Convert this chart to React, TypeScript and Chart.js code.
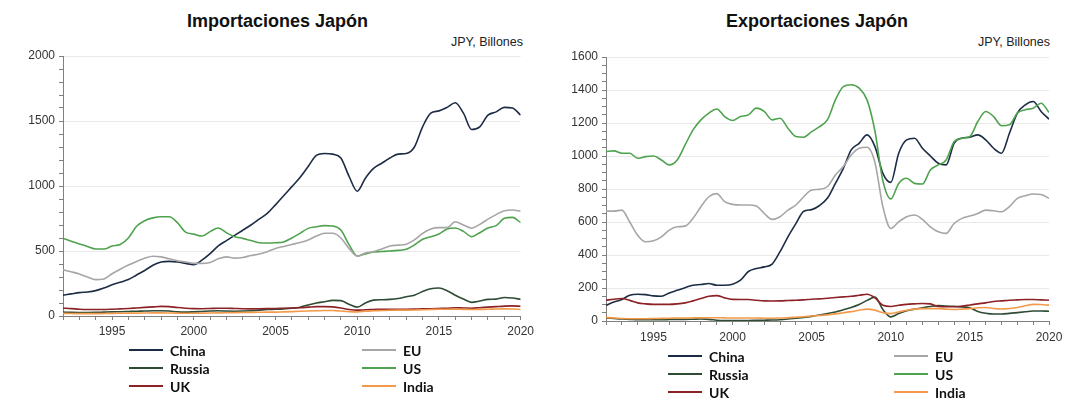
import React, { useEffect, useLayoutEffect, useRef } from 'react';
import { Chart, registerables } from 'chart.js';

Chart.register(...registerables);

// Half-year grid, 1992.0 .. 2020.0
const years: number[] = Array.from({ length: 57 }, (_, i) => 1992 + i * 0.5);

// ---------- Imports (JPY billions) ----------
const impChina = [160, 170, 180, 185, 195, 215, 240, 260, 280, 315,
  350, 390, 415, 420, 415, 405, 395, 430, 480, 540,
  580, 620, 660, 700, 745, 790, 855, 925, 995, 1065,
  1150, 1235, 1250, 1245, 1215, 1075, 960, 1060, 1135, 1175,
  1215, 1245, 1250, 1300, 1455, 1560, 1578, 1605, 1640, 1560,
  1435, 1455, 1545, 1570, 1605, 1600, 1545];
const impEU = [355, 340, 323, 300, 280, 285, 325, 360, 392, 420,
  445, 460, 455, 440, 425, 415, 405, 405, 412, 440,
  455, 445, 450, 465, 477, 495, 520, 535, 550, 565,
  585, 615, 636, 636, 600, 520, 460, 485, 495, 515,
  538, 545, 552, 585, 636, 670, 680, 680, 725, 700,
  675, 705, 745, 780, 810, 815, 805];
const impUS = [597, 575, 554, 535, 515, 515, 538, 550, 600, 690,
  733, 755, 764, 764, 718, 645, 630, 615, 649, 677,
  641, 610, 597, 580, 564, 562, 564, 570, 600, 636,
  674, 687, 695, 692, 662, 549, 461, 477, 492, 496,
  500, 505, 513, 546, 590, 610, 631, 669, 677, 651,
  610, 641, 677, 695, 751, 759, 718];
const impRussia = [30, 28, 27, 27, 28, 30, 32, 33, 35, 37,
  38, 40, 40, 38, 32, 30, 32, 35, 38, 40,
  38, 37, 38, 40, 45, 50, 52, 55, 60, 68,
  85, 100, 110, 120, 118, 90, 68, 100, 122, 125,
  128, 135, 148, 160, 188, 210, 215, 195, 160, 130,
  105, 115, 128, 130, 142, 138, 128];
const impUK = [60, 57, 52, 50, 50, 50, 52, 55, 58, 62,
  66, 70, 74, 72, 65, 60, 57, 56, 58, 60,
  60, 58, 56, 55, 56, 57, 58, 60, 62, 64,
  68, 72, 72, 70, 62, 50, 45, 48, 50, 52,
  52, 52, 52, 53, 55, 56, 58, 60, 64, 62,
  60, 64, 68, 72, 76, 78, 75];
const impIndia = [20, 19, 18, 18, 18, 19, 20, 21, 22, 22,
  23, 24, 24, 23, 22, 21, 21, 22, 23, 24,
  25, 26, 27, 28, 29, 30, 30, 32, 34, 36,
  38, 40, 42, 42, 38, 34, 32, 36, 40, 42,
  44, 45, 45, 46, 48, 50, 52, 52, 52, 51,
  50, 51, 52, 54, 55, 54, 50];

// ---------- Exports (JPY billions) ----------
const expChina = [95, 115, 130, 156, 162, 160, 152, 150, 170, 186,
  202, 217, 221, 227, 217, 217, 223, 247, 300, 318,
  328, 345, 420, 510, 590, 665, 675, 700, 745, 834,
  925, 1037, 1077, 1128, 1057, 895, 840, 1017, 1098, 1108,
  1047, 1000, 956, 946, 1077, 1108, 1114, 1128, 1098, 1047,
  1017, 1138, 1260, 1310, 1330, 1270, 1223];
const expEU = [666, 666, 672, 600, 520, 480, 486, 510, 551, 571,
  575, 622, 693, 753, 772, 723, 707, 703, 703, 697,
  652, 616, 632, 672, 703, 753, 794, 798, 815, 885,
  936, 1006, 1047, 1053, 960, 693, 561, 601, 632, 642,
  616, 571, 541, 531, 591, 622, 636, 652, 672, 668,
  662, 693, 743, 759, 770, 767, 743];
const expUS = [1027, 1031, 1017, 1017, 986, 996, 1000, 976, 946, 976,
  1067, 1158, 1219, 1260, 1285, 1239, 1215, 1239, 1249, 1290,
  1270, 1219, 1229, 1168, 1118, 1114, 1148, 1178, 1220, 1340,
  1421, 1432, 1411, 1340, 1150, 850, 740, 834, 865, 834,
  830, 915, 946, 976, 1087, 1108, 1118, 1209, 1270, 1239,
  1183, 1189, 1260, 1280, 1290, 1320, 1264];
const expRussia = [18, 15, 12, 10, 8, 8, 8, 8, 9, 10,
  10, 11, 12, 10, 5, 3, 3, 3, 3, 4,
  5, 6, 8, 12, 17, 22, 28, 36, 45, 55,
  68, 82, 100, 125, 145, 70, 25, 45, 62, 72,
  80, 88, 93, 90, 89, 85, 80, 58, 47, 42,
  42, 46, 51, 56, 61, 61, 59];
const expUK = [126, 132, 136, 125, 110, 104, 101, 101, 101, 104,
  110, 122, 136, 150, 154, 140, 131, 130, 130, 126,
  122, 121, 122, 124, 126, 128, 132, 134, 138, 142,
  146, 150, 156, 162, 140, 95, 88, 95, 101, 104,
  106, 104, 88, 86, 86, 90, 97, 104, 110, 118,
  122, 126, 128, 130, 130, 128, 126];
const expIndia = [22, 18, 15, 14, 14, 14, 15, 16, 17, 18,
  18, 19, 20, 20, 20, 19, 18, 18, 18, 18,
  17, 17, 18, 20, 23, 26, 30, 33, 37, 43,
  50, 57, 65, 72, 66, 50, 45, 55, 65, 72,
  75, 75, 75, 72, 70, 72, 75, 80, 82, 76,
  73, 76, 82, 92, 101, 100, 96];

const xTickLabels = [1995, 2000, 2005, 2010, 2015, 2020];

const COLORS: Record<string, string> = {
  China: '#1d2c45',
  EU: '#a6a6a6',
  Russia: '#2e4b33',
  US: '#4fa34f',
  UK: '#8c2226',
  India: '#f39a4a',
};

// drawing order (last on top)
const DRAW_ORDER = ['EU', 'US', 'India', 'UK', 'Russia', 'China'];
const LEGEND_LEFT = ['China', 'Russia', 'UK'];
const LEGEND_RIGHT = ['EU', 'US', 'India'];

const importSeries: Record<string, number[]> = {
  China: impChina, EU: impEU, US: impUS, Russia: impRussia, UK: impUK, India: impIndia,
};
const exportSeries: Record<string, number[]> = {
  China: expChina, EU: expEU, US: expUS, Russia: expRussia, UK: expUK, India: expIndia,
};

const AXIS_COLOR = '#808080';
const GRID_COLOR = '#e9e9e9';
const FONT = '"Liberation Sans", Arial, sans-serif';

type ChartProps = {
  series: Record<string, number[]>;
  yMax: number;
  yStep: number;
  yLabelStep: number;
  left: number;
  top: number;
  width: number;
  height: number;
  padTop: number;
  padRight: number;
  yAxisWidth: number;
  xLabelPad: number;
};

function TradeChart(p: ChartProps) {
  const ref = useRef<HTMLCanvasElement | null>(null);
  useEffect(() => {
    if (!ref.current) return;
    const chart = new Chart(ref.current, {
      type: 'line',
      data: {
        datasets: DRAW_ORDER.map((name) => ({
          label: name,
          data: years.map((x, i) => ({ x, y: p.series[name][i] })),
          borderColor: COLORS[name],
          backgroundColor: COLORS[name],
          borderWidth: 1.6,
          pointRadius: 0,
          cubicInterpolationMode: 'monotone',
          fill: false,
        })),
      },
      options: {
        responsive: false,
        animation: false,
        events: [],
        layout: { padding: { top: p.padTop, right: p.padRight, left: 0, bottom: 0 } },
        plugins: { legend: { display: false }, tooltip: { enabled: false } },
        scales: {
          x: {
            type: 'linear',
            min: 1992,
            max: 2020,
            afterFit: (s: any) => { s.height = 30; },
            grid: { drawOnChartArea: false, tickLength: 4, tickColor: AXIS_COLOR },
            border: { color: AXIS_COLOR, width: 1 },
            ticks: {
              stepSize: 1,
              includeBounds: false,
              autoSkip: false,
              maxRotation: 0,
              padding: p.xLabelPad,
              color: '#333',
              font: { family: FONT, size: 12 },
              callback: (v: any) => (xTickLabels.includes(Number(v)) ? String(v) : ''),
            },
          },
          y: {
            type: 'linear',
            min: 0,
            max: p.yMax,
            afterFit: (s: any) => { s.width = p.yAxisWidth; },
            grid: {
              tickLength: 4,
              tickColor: AXIS_COLOR,
              color: (ctx: any) =>
                ctx.tick && ctx.tick.value % p.yLabelStep === 0 && ctx.tick.value !== 0
                  ? GRID_COLOR
                  : 'rgba(0,0,0,0)',
            },
            border: { color: AXIS_COLOR, width: 1 },
            ticks: {
              stepSize: p.yStep,
              autoSkip: false,
              padding: 4,
              color: '#333',
              font: { family: FONT, size: 12 },
              callback: (v: any) => (Number(v) % p.yLabelStep === 0 ? String(v) : ''),
            },
          },
        },
      } as any,
    });
    return () => chart.destroy();
  }, []);
  return (
    <canvas
      ref={ref}
      width={p.width}
      height={p.height}
      style={{ position: 'absolute', left: p.left, top: p.top, width: p.width, height: p.height }}
    />
  );
}

function Legend({ top, colX, colX2, rowGap }: { top: number; colX: number; colX2: number; rowGap: number }) {
  const item = (name: string, x: number, y: number) => (
    <div key={name} style={{ position: 'absolute', left: x, top: top + y - 9, height: 18, display: 'flex', alignItems: 'center', whiteSpace: 'nowrap' }}>
      <div style={{ width: 34, height: 2, background: COLORS[name] }} />
      <span style={{ marginLeft: 7, font: 'bold 14px Lato, "Open Sans", sans-serif', color: '#111' }}>{name}</span>
    </div>
  );
  return (
    <>
      {LEGEND_LEFT.map((n, i) => item(n, colX, i * rowGap))}
      {LEGEND_RIGHT.map((n, i) => item(n, colX2, i * rowGap))}
    </>
  );
}

export default function App() {
  useLayoutEffect(() => {
    document.body.style.margin = '0';
    document.documentElement.style.overflow = 'hidden';
  }, []);
  const titleStyle: React.CSSProperties = {
    position: 'absolute', top: 11, height: 20, lineHeight: '20px', textAlign: 'center',
    font: `bold 18px ${FONT}`, color: '#111',
  };
  const subStyle: React.CSSProperties = {
    position: 'absolute', top: 35, height: 16, lineHeight: '16px', textAlign: 'right',
    font: `12.5px ${FONT}`, color: '#222',
  };
  return (
    <div style={{ position: 'relative', width: 1069, height: 399, overflow: 'hidden', background: '#fff', fontFamily: FONT }}>
      <div style={{ ...titleStyle, left: 8, width: 539 }}>Importaciones Japón</div>
      <div style={{ ...subStyle, left: 8, width: 515 }}>JPY, Billones</div>
      <TradeChart series={importSeries} yMax={2000} yStep={100} yLabelStep={500}
        left={8} top={8} width={530} height={338} padTop={48} padRight={17} yAxisWidth={55} xLabelPad={4} />
      <Legend top={350} colX={129} colX2={362} rowGap={18} />

      <div style={{ ...titleStyle, left: 557, width: 520 }}>Exportaciones Japón</div>
      <div style={{ ...subStyle, left: 538, width: 512 }}>JPY, Billones</div>
      <TradeChart series={exportSeries} yMax={1600} yStep={50} yLabelStep={200}
        left={538} top={8} width={531} height={343} padTop={49} padRight={20} yAxisWidth={68} xLabelPad={5} />
      <Legend top={356} colX={668} colX2={894} rowGap={18} />
    </div>
  );
}
